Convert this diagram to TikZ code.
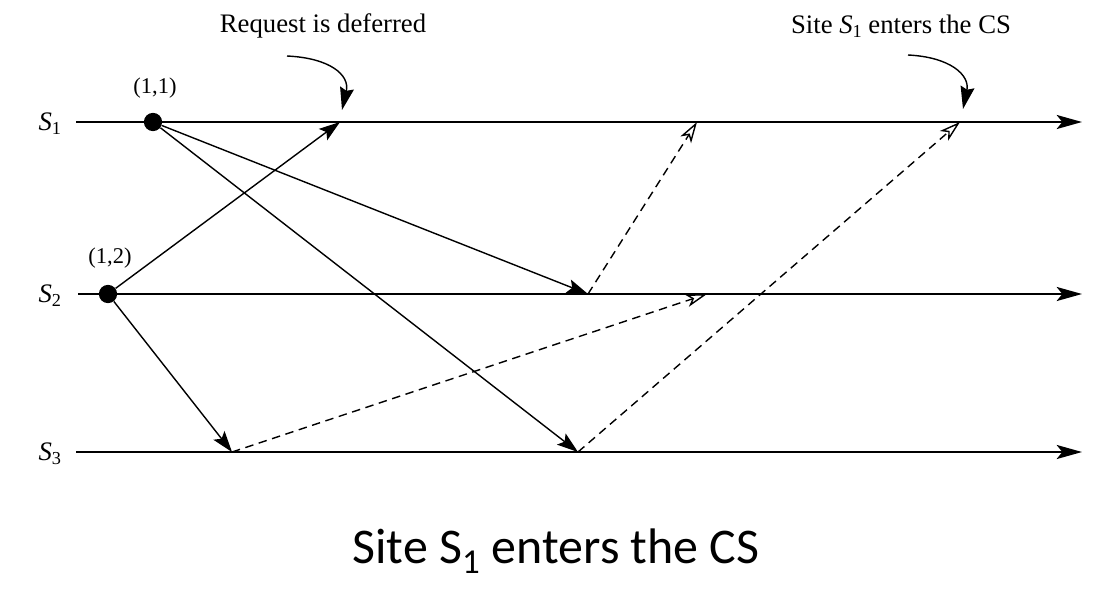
\documentclass[tikz,border=0pt]{standalone}
\usepackage{fontspec}
\setmainfont{Liberation Serif}
\newfontfamily\calib{Carlito}
\usetikzlibrary{arrows.meta}
\newcommand{\sitelbl}[1]{\textit{S}\raisebox{-0.35ex}{\fontsize{13}{13}\selectfont #1}}
\begin{document}
\begin{tikzpicture}[x=0.025cm,y=-0.025cm,
  timeline/.style={line width=1.4pt,-{Stealth[length=18pt,width=10pt,inset=4pt]}},
  msg/.style={line width=1pt,-{Stealth[length=15pt,width=10pt,inset=3pt]}},
  reply/.style={line width=1pt,dash pattern=on 6pt off 4pt,-{Stealth[open,length=15pt,width=9pt,inset=4pt]}},
  note/.style={line width=1pt,-{Stealth[length=16pt,width=10pt,inset=2pt]}},
  dot/.style={circle,fill=black,inner sep=0pt,minimum size=13pt},
  lbl/.style={font=\fontsize{19}{22}\selectfont},
  ts/.style={font=\fontsize{16}{19}\selectfont}]
\useasboundingbox (0,0) rectangle (1094,593);
% site labels
\node[lbl,anchor=east] (l1) at (66,124) {\sitelbl{1}};
\node[lbl,anchor=east] (l2) at (66,296) {\sitelbl{2}};
\node[lbl,anchor=east] (l3) at (66,454) {\sitelbl{3}};
% timeline ends
\coordinate (a1) at (76,122); \coordinate (b1) at (1082,122);
\coordinate (a2) at (78,294); \coordinate (b2) at (1082,294);
\coordinate (a3) at (76,452); \coordinate (b3) at (1082,452);
\draw[timeline] (a1) -- (b1);
\draw[timeline] (a2) -- (b2);
\draw[timeline] (a3) -- (b3);
% request events
\node[dot] (r1) at (153,122) {};
\node[dot] (r2) at (108,294) {};
\node[ts] (t1) at (155,88) {(1,1)};
\node[ts] (t2) at (110,258) {(1,2)};
% message points
\coordinate (p12) at (340,122);
\coordinate (p23) at (232,452);
\coordinate (p21) at (588,294);
\coordinate (p31) at (578,452);
\coordinate (q12) at (697,122);
\coordinate (q32) at (707,294);
\coordinate (q31) at (960,122);
% requests
\draw[msg] (r2) -- (p12);
\draw[msg] (r2) -- (p23);
\draw[msg] (r1) -- (p21);
\draw[msg] (r1) -- (p31);
% replies
\draw[reply] (p21) -- (q12);
\draw[reply] (p23) -- (q32);
\draw[reply] (p31) -- (q31);
% annotations
\node[lbl] (n1) at (323,26) {Request is deferred};
\node[lbl] (n2) at (901,26) {Site \sitelbl{1} enters the CS};
\coordinate (c1) at (287,56); \coordinate (d1) at (342,110);
\coordinate (c2) at (908,55); \coordinate (d2) at (963,109);
\draw[note] (c1) .. controls (330,58) and (350,75) .. (d1);
\draw[note] (c2) .. controls (950,57) and (970,75) .. (d2);
% caption
\node[font=\calib\fontsize{35.5}{42}\selectfont] (cap) at (556,551) {Site S\textsubscript{1} enters the CS};
\end{tikzpicture}
\end{document}
